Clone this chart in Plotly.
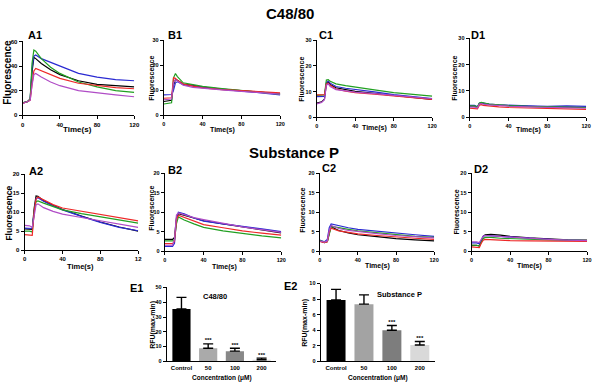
import plotly.graph_objects as go

W, H = 600, 385

# ---------------- data ----------------
t = [0, 5, 8, 10, 12, 14, 20, 30, 40, 60, 80, 100, 120]

a1_black = [10, 11, 13, 35, 47, 46, 42, 37, 33, 28, 25, 24, 23]
a1_blue = [10, 11, 13, 38, 48, 49, 46, 43, 40, 34, 31, 29, 28]
a1_green = [10, 11, 13, 42, 53, 52, 46, 39, 34, 27, 23, 20, 18.5]
a1_red = [9.5, 11, 12, 25, 36, 38, 36, 33, 30, 26, 24, 22.5, 21.5]
a1_purple = [9.5, 11, 12, 24, 33, 34, 31, 27, 24, 20, 18, 16.5, 15]

b1_black = [5.5, 5.8, 6, 12, 14.3, 14, 12.5, 12, 11.3, 10.5, 9.8, 9.2, 8.6]
b1_blue = [8.2, 8.2, 8.3, 10, 13, 13.4, 12.3, 11.8, 11.3, 10.4, 9.7, 9, 8.2]
b1_green = [4.5, 4.7, 5, 15, 16.7, 15.5, 13, 12.3, 11.6, 10.7, 9.9, 9.2, 8.5]
b1_red = [6.8, 6.9, 7, 15, 14.8, 14, 12.5, 11.7, 11, 10.3, 9.8, 9.4, 9]
b1_purple = [6.2, 6.3, 6.5, 13, 14.2, 13.7, 12, 11.2, 10.8, 10.2, 9.6, 9.1, 8.5]

c1_black = [5.5, 6, 7, 13, 13.7, 12.8, 11.5, 10.7, 10.1, 9.3, 8.4, 7.7, 7]
c1_blue = [8, 8, 8.1, 13.5, 14.1, 13.3, 12, 11.3, 10.9, 9.9, 8.8, 8, 7.3]
c1_green = [8.5, 8.5, 8.7, 14.5, 14.7, 14, 13, 12.3, 11.7, 10.7, 9.6, 8.9, 8.2]
c1_red = [8.7, 8.7, 8.8, 13, 13.3, 12.5, 11, 10.2, 9.6, 9, 8.3, 7.6, 7]
c1_purple = [5.2, 5.8, 6.8, 12.5, 13, 12, 10.8, 10.2, 9.8, 9.2, 8.5, 7.8, 7.2]

d1_black = [4.2, 4.2, 3.8, 5.2, 5.4, 5.2, 4.9, 4.6, 4.4, 4.1, 3.9, 3.8, 3.7]
d1_blue = [4.5, 4.5, 4, 5.3, 5.5, 5.3, 5, 4.7, 4.5, 4.3, 4.1, 4.3, 4.1]
d1_green = [4.3, 4.3, 3.9, 5.4, 5.6, 5.4, 5.0, 4.7, 4.4, 4.1, 3.9, 3.8, 3.7]
d1_red = [3.4, 3.4, 3.2, 4.6, 4.8, 4.5, 4.2, 3.9, 3.7, 3.5, 3.3, 3.1, 3.0]
d1_purple = [3.8, 3.8, 3.5, 5, 5.2, 5, 4.7, 4.4, 4.2, 3.9, 3.7, 3.5, 3.4]

a2_black = [5.6, 5.6, 5.5, 11, 14.3, 14.2, 13, 11.8, 10.7, 9, 7.4, 6.1, 5]
a2_blue = [5.8, 5.8, 5.7, 10, 13.6, 13.8, 12.9, 11.7, 10.6, 8.9, 7.3, 6, 5.1]
a2_green = [5, 5, 4.8, 10, 12.8, 13, 12.4, 11.4, 10.6, 9.6, 8.7, 7.9, 7.1]
a2_red = [4.1, 4, 3.9, 10, 13.5, 14, 13.2, 12, 11.1, 10.2, 9.3, 8.5, 7.7]
a2_purple = [6.5, 6.4, 6, 9.5, 11.9, 12.2, 11.2, 10.2, 9.5, 8.6, 7.8, 6.9, 6]

b2_black = [3, 3, 3, 3.5, 8.5, 9.6, 9.2, 8.5, 7.8, 7, 6.2, 5.4, 4.7]
b2_blue = [1.2, 1.2, 1.2, 2, 8, 10, 9.6, 8.5, 7.7, 7, 6.4, 5.7, 5]
b2_green = [2.6, 2.6, 2.6, 3, 7, 8.8, 8, 7, 6.1, 5.2, 4.5, 3.9, 3.4]
b2_red = [1.9, 1.9, 1.9, 2.5, 8, 9.2, 8.6, 7.6, 6.8, 6, 5.2, 4.6, 4.1]
b2_purple = [1.5, 1.5, 1.5, 3, 9.3, 9.8, 9.3, 8.6, 8.1, 7.2, 6.2, 5.5, 4.8]

c2_black = [2.6, 2.2, 2.5, 5, 6.6, 6, 5.3, 4.7, 4.2, 3.7, 3.2, 2.9, 2.6]
c2_blue = [2.8, 2.4, 3, 6, 7, 6.9, 6.4, 6, 5.6, 5.1, 4.6, 4.2, 3.8]
c2_green = [2.7, 2.3, 2.4, 4.5, 6.2, 6.3, 6, 5.6, 5.2, 4.7, 4.2, 3.8, 3.5]
c2_red = [2.5, 2.2, 2.4, 5, 5.9, 5.7, 5.2, 4.8, 4.4, 4, 3.6, 3.3, 3]
c2_purple = [2.6, 2.3, 2.6, 5.3, 6.6, 6.4, 5.8, 5.3, 5, 4.5, 4, 3.7, 3.4]

d2_black = [1.5, 1.5, 1.3, 2.5, 3.8, 4.2, 4.3, 4.1, 3.8, 3.4, 3.1, 2.9, 2.8]
d2_blue = [2.1, 2.1, 1.9, 2.8, 3.8, 4, 3.9, 3.7, 3.5, 3.2, 3, 2.8, 2.7]
d2_green = [1.5, 1.5, 1.3, 2.2, 3.2, 3.5, 3.5, 3.3, 3.2, 3, 2.9, 2.8, 2.7]
d2_red = [1.1, 1, 0.9, 2, 2.8, 3, 2.9, 2.8, 2.7, 2.6, 2.6, 2.5, 2.5]
d2_purple = [2.4, 2.4, 2.2, 3, 3.8, 4, 3.9, 3.7, 3.5, 3.2, 3, 2.8, 2.7]

bar_categories = ["Control", "50", "100", "200"]
e1_values = [35.5, 8.9, 6.9, 1.1]
e1_errors = [7.8, 2.9, 2.0, 1.1]
e1_sig = ["", "***", "***", "***"]
e2_values = [7.9, 7.35, 4.0, 2.1]
e2_errors = [1.35, 1.2, 0.6, 0.45]
e2_sig = ["", "", "***", "***"]

time_ticks = [0, 40, 80, 120]
time_ticktext = ["0", "40", "80", "120"]
time_ticktext_a2 = ["0", "40", "80", "12"]

# ---------------- styles ----------------
FONT = "Liberation Sans, Arial, sans-serif"
LINE_COLORS = ["#000000", "#2a2ad2", "#22a022", "#ee2828", "#b04cc6"]


def px(x):
    return x / W


def py(y):
    return 1 - y / H


fig = go.Figure()
annotations = []


def ann(text, x, y, size, angle=0, xanchor="center"):
    annotations.append(dict(
        text="<b>%s</b>" % text, x=px(x), y=py(y), xref="paper", yref="paper",
        showarrow=False, xanchor=xanchor, yanchor="middle", textangle=angle,
        borderpad=0, font=dict(family=FONT, size=size, color="#000000")))


def axis_common(tsize):
    return dict(showline=True, linecolor="#000000", linewidth=1.1,
                ticks="outside", ticklen=3, tickwidth=1, tickcolor="#000000",
                showgrid=False, zeroline=False,
                tickfont=dict(family=FONT, size=tsize, color="#000000", weight="bold"))


line_panels = [
    ("A1", [a1_black, a1_blue, a1_green, a1_red, a1_purple], (21, 134), (39, 114), 60, 20,
     time_ticktext, (33, 33), (6, 70), 10, (77, 128), 8, 6),
    ("B1", [b1_black, b1_blue, b1_green, b1_red, b1_purple], (164, 282), (38, 114), 30, 10,
     time_ticktext, (175, 32), (152, 76), 7, (223, 129), 7, 5.5),
    ("C1", [c1_black, c1_blue, c1_green, c1_red, c1_purple], (319, 436), (38, 116), 30, 10,
     time_ticktext, (328, 33), (304, 77), 7, (378, 127), 7, 5.5),
    ("D1", [d1_black, d1_blue, d1_green, d1_red, d1_purple], (474, 592), (36, 116), 30, 10,
     time_ticktext, (482, 32), (459, 76), 7, (534, 129), 7, 5.5),
    ("A2", [a2_black, a2_blue, a2_green, a2_red, a2_purple], (23, 138), (174, 251), 20, 5,
     time_ticktext_a2, (34, 171), (7, 213), 8.5, (80, 268), 7.5, 6),
    ("B2", [b2_black, b2_blue, b2_green, b2_red, b2_purple], (165, 283), (173, 252), 20, 5,
     time_ticktext, (175, 170), (152, 208), 7, (225, 268), 7, 5.5),
    ("C2", [c2_black, c2_blue, c2_green, c2_red, c2_purple], (322, 438), (173, 252), 20, 5,
     time_ticktext, (331, 168), (305, 210), 7, (381, 267), 7, 5.5),
    ("D2", [d2_black, d2_blue, d2_green, d2_red, d2_purple], (476, 593), (173, 252), 20, 5,
     time_ticktext, (485, 169), (461, 212), 7, (535, 267), 7, 5.5),
]

layout_axes = {}
idx = 0
for (lab, series, xd, yd, ymax, ystep, ttext, lpos, ylpos, ylsize, xlpos, xlsize, tsize) in line_panels:
    idx += 1
    xa = "x%d" % idx
    ya = "y%d" % idx
    for s, col in zip(series, LINE_COLORS):
        fig.add_trace(go.Scatter(x=t, y=s, mode="lines", xaxis=xa, yaxis=ya,
                                 line=dict(color=col, width=1.2), showlegend=False,
                                 hoverinfo="skip"))
    xax = axis_common(tsize)
    xax.update(domain=[px(xd[0]), px(xd[1])], range=[0, 120], anchor=ya,
               tickvals=time_ticks, ticktext=ttext)
    yax = axis_common(tsize)
    yax.update(domain=[py(yd[1]), py(yd[0])], range=[0, ymax], anchor=xa,
               tickvals=list(range(0, ymax + 1, ystep)))
    layout_axes["xaxis%d" % idx] = xax
    layout_axes["yaxis%d" % idx] = yax
    ann(lab, lpos[0], lpos[1], 11)
    ann("Fluorescence", ylpos[0], ylpos[1], ylsize, angle=-90)
    ann("Time(s)", xlpos[0], xlpos[1], xlsize)

# bar panels
bar_panels = [
    ("E1", "C48/80", e1_values, e1_errors, e1_sig, ["#000000", "#aaaaaa", "#888888", "#dcdcdc"],
     (167, 278), (289, 364), 50, 10, (136, 290), (216, 298), (153, 327), (223, 381)),
    ("E2", "Substance P", e2_values, e2_errors, e2_sig, ["#000000", "#a3a3a3", "#7d7d7d", "#d9d9d9"],
     (323, 439), (285, 364), 10, 2, (292, 287), (403, 296), (307, 325), (381, 381)),
]
for (lab, title, vals, errs, sig, cols, xd, yd, ymax, ystep, lpos, tpos, ylpos, xlpos) in bar_panels:
    idx += 1
    xa = "x%d" % idx
    ya = "y%d" % idx
    fig.add_trace(go.Bar(x=bar_categories, y=vals, xaxis=xa, yaxis=ya, width=0.68,
                         marker=dict(color=cols, line=dict(width=0)),
                         error_y=dict(type="data", array=errs, arrayminus=[0] * len(errs),
                                      symmetric=False, color="#000000", thickness=1.4, width=5),
                         showlegend=False, hoverinfo="skip"))
    sx = [c for c, s in zip(bar_categories, sig) if s]
    sy = [v + e for v, e, s in zip(vals, errs, sig) if s]
    st = [s for s in sig if s]
    fig.add_trace(go.Scatter(x=sx, y=sy, mode="text", text=st, textposition="top center",
                             textfont=dict(family=FONT, size=6, color="#000000", weight="bold"),
                             xaxis=xa, yaxis=ya, showlegend=False, hoverinfo="skip",
                             cliponaxis=False))
    xax = axis_common(6)
    xax.update(domain=[px(xd[0]), px(xd[1])], anchor=ya, ticks="", type="category",
               range=[-0.55, 3.55])
    yax = axis_common(5.5)
    yax.update(domain=[py(yd[1]), py(yd[0])], range=[0, ymax], anchor=xa,
               tickvals=list(range(0, ymax + 1, ystep)))
    layout_axes["xaxis%d" % idx] = xax
    layout_axes["yaxis%d" % idx] = yax
    ann(lab, lpos[0], lpos[1], 11)
    ann(title, tpos[0], tpos[1], 7.5)
    ann("RFU(max-min)", ylpos[0], ylpos[1], 7, angle=-90)
    ann("Concentration (\u03bcM)", xlpos[0], xlpos[1], 6.5)

# section titles
ann("C48/80", 292, 11, 15)
ann("Substance P", 296, 152, 15)

fig.update_layout(width=W, height=H, margin=dict(l=0, r=0, t=0, b=0),
                  paper_bgcolor="#ffffff", plot_bgcolor="rgba(0,0,0,0)",
                  font=dict(family=FONT, color="#000000"),
                  bargap=0.3, annotations=annotations, **layout_axes)

fig.write_html("out.html", config={"displayModeBar": False, "staticPlot": True},
               post_script="document.body.style.margin='0';document.body.style.padding='0';")
